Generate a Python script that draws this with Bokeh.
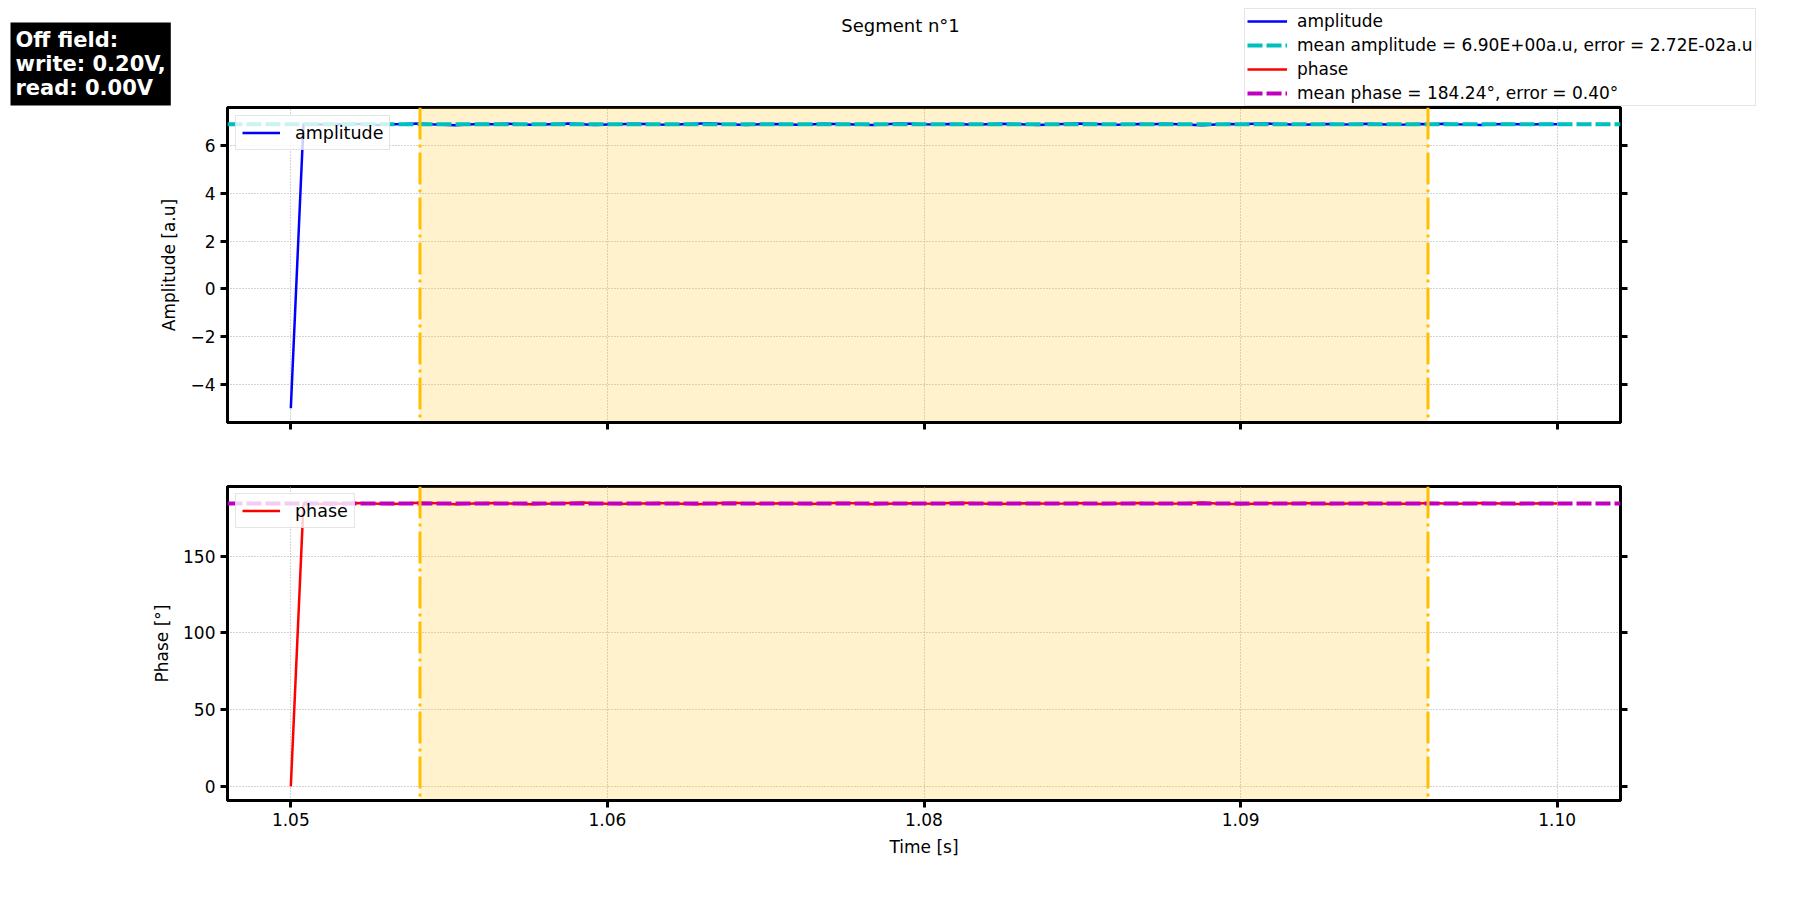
import numpy as np
from bokeh.plotting import figure
from bokeh.models import (Range1d, FixedTicker, LinearAxis, Span, BoxAnnotation,
                          Legend, LegendItem, Label)
from bokeh.layouts import column
from bokeh.embed import file_html
from bokeh.resources import INLINE

# ---------------- data ----------------
time_s = np.linspace(1.05, 1.10, 101)

amplitude = [-5.0,
    6.91, 6.90, 6.88, 6.90, 6.92, 6.89, 6.87, 6.90, 6.91, 6.93,
    6.90, 6.88, 6.86, 6.89, 6.91, 6.90, 6.92, 6.90, 6.88, 6.89,
    6.91, 6.93, 6.90, 6.87, 6.89, 6.90, 6.92, 6.91, 6.89, 6.88,
    6.90, 6.92, 6.94, 6.91, 6.89, 6.87, 6.90, 6.91, 6.90, 6.88,
    6.89, 6.92, 6.91, 6.90, 6.88, 6.87, 6.90, 6.93, 6.92, 6.90,
    6.89, 6.91, 6.90, 6.88, 6.90, 6.92, 6.91, 6.89, 6.87, 6.89,
    6.91, 6.93, 6.92, 6.90, 6.88, 6.89, 6.91, 6.90, 6.92, 6.90,
    6.88, 6.86, 6.89, 6.91, 6.90, 6.92, 6.93, 6.91, 6.89, 6.88,
    6.90, 6.91, 6.89, 6.90, 6.92, 6.90, 6.88, 6.89, 6.91, 6.90,
    6.92, 6.90, 6.89, 6.87, 6.90, 6.91, 6.90, 6.89, 6.91, 6.90]

phase = [0.0,
    184.3, 184.1, 183.8, 184.2, 184.6, 184.4, 184.0, 183.9, 184.3, 184.7,
    184.5, 184.2, 183.8, 184.0, 184.4, 184.6, 184.3, 184.1, 183.7, 184.0,
    184.2, 184.5, 184.8, 184.4, 184.1, 183.9, 184.2, 184.3, 184.6, 184.2,
    184.0, 183.8, 184.1, 184.5, 184.7, 184.3, 184.0, 184.2, 184.4, 184.1,
    183.9, 184.2, 184.6, 184.5, 184.2, 183.8, 184.0, 184.3, 184.4, 184.2,
    184.1, 184.5, 184.7, 184.4, 184.0, 183.9, 184.2, 184.4, 184.3, 184.1,
    184.3, 184.6, 184.2, 183.9, 184.1, 184.4, 184.5, 184.3, 184.0, 184.2,
    184.5, 184.8, 184.3, 184.0, 183.8, 184.1, 184.4, 184.3, 184.2, 184.5,
    184.2, 183.9, 184.1, 184.4, 184.6, 184.3, 184.1, 184.0, 184.3, 184.5,
    184.2, 184.0, 184.3, 184.6, 184.4, 184.1, 183.9, 184.2, 184.4, 184.3]

mean_amplitude = 6.90
mean_phase = 184.24
window_start = 1.0551
window_end = 1.0949

x_ticks = [1.05, 1.0625, 1.075, 1.0875, 1.10]
x_tick_labels = ["1.05", "1.06", "1.08", "1.09", "1.10"]
amp_ticks = [-4, -2, 0, 2, 4, 6]
amp_tick_labels = ["\u22124", "\u22122", "0", "2", "4", "6"]
phase_ticks = [0, 50, 100, 150]
phase_tick_labels = ["0", "50", "100", "150"]

title_text = "Segment n\u00b01"
info_text = "Off field:\nwrite: 0.20V,\nread: 0.00V"
legend_labels = ["amplitude",
                 "mean amplitude = 6.90E+00a.u, error = 2.72E-02a.u",
                 "phase",
                 "mean phase = 184.24\u00b0, error = 0.40\u00b0"]

# ---------------- styles ----------------
FONT = "DejaVu Sans"
BLUE, CYAN, RED, MAGENTA = "#0000ff", "#00bfbf", "#ff0000", "#bf00bf"
ORANGE = "#ffbf00"
MEAN_DASH = "15 4"
WIN_DASH = "32 5 3 5"
TOTAL_W = 1795
LEFT_B, FRAME_W = 227, 1393
HEADER_H = 106
DATA_LW = 2.5

x_range = Range1d(1.0475, 1.1025)


def style_axis(ax):
    ax.axis_line_width = 3
    ax.axis_line_color = "black"
    ax.major_tick_line_width = 3
    ax.major_tick_line_color = "black"
    ax.major_tick_out = 7
    ax.major_tick_in = 0
    ax.minor_tick_line_color = None
    ax.major_label_text_font = FONT
    ax.major_label_text_font_size = "17px"
    ax.major_label_text_color = "black"
    ax.major_label_standoff = 5
    ax.axis_label_text_font = FONT
    ax.axis_label_text_font_size = "17px"
    ax.axis_label_text_font_style = "normal"
    ax.axis_label_text_color = "black"
    ax.axis_label_standoff = 8


def make_fig(y_range, frame_h, top, bottom, yticks, ylabels, ylabel, xlabels_visible, xlabel):
    p = figure(x_range=x_range, y_range=y_range, frame_width=FRAME_W, frame_height=frame_h,
               min_border_left=LEFT_B, min_border_right=TOTAL_W - LEFT_B - FRAME_W,
               min_border_top=top, min_border_bottom=bottom,
               output_backend="svg", toolbar_location=None)
    p.outline_line_color = "black"
    p.outline_line_width = 3
    p.outline_line_alpha = 1.0
    p.background_fill_color = "white"
    p.border_fill_color = "white"

    xt = FixedTicker(ticks=x_ticks)
    p.xaxis.ticker = xt
    if xlabels_visible:
        p.xaxis.major_label_overrides = dict(zip(x_ticks, x_tick_labels))
    else:
        p.xaxis.major_label_overrides = {t: "" for t in x_ticks}
    if xlabel:
        p.xaxis.axis_label = xlabel
    yt = FixedTicker(ticks=yticks)
    p.yaxis.ticker = yt
    p.yaxis.major_label_overrides = dict(zip(yticks, ylabels))
    p.yaxis.axis_label = ylabel

    right = LinearAxis(ticker=FixedTicker(ticks=yticks),
                       major_label_overrides={t: "" for t in yticks})
    p.add_layout(right, "right")
    for ax in list(p.xaxis) + list(p.yaxis) + [right]:
        style_axis(ax)

    p.xgrid.ticker = xt
    p.ygrid.ticker = yt
    for g in (p.xgrid, p.ygrid):
        g.grid_line_color = "#a8a8a8"
        g.grid_line_width = 1
        g.grid_line_dash = "1 2"
    return p


p1 = make_fig(Range1d(-5.6, 7.6), 315, 1, 30, amp_ticks, amp_tick_labels,
              "Amplitude [a.u]", False, None)
p2 = make_fig(Range1d(-9.2, 195.3), 314, 34, 70, phase_ticks, phase_tick_labels,
              "Phase [\u00b0]", True, "Time [s]")


def add_content(p, values, color, mean_value, mean_color):
    p.add_layout(BoxAnnotation(left=window_start, right=window_end, fill_color=ORANGE,
                               fill_alpha=0.2, line_color=None, level="underlay"))
    r = p.line(time_s, values, line_color=color, line_width=DATA_LW)
    p.add_layout(Span(location=mean_value, dimension="width", line_color=mean_color,
                      line_width=4, line_dash=MEAN_DASH))
    for loc in (window_start, window_end):
        p.add_layout(Span(location=loc, dimension="height", line_color=ORANGE,
                          line_width=3, line_dash=WIN_DASH))
    return r


amp_r = add_content(p1, amplitude, BLUE, mean_amplitude, CYAN)
ph_r = add_content(p2, phase, RED, mean_phase, MAGENTA)


def style_legend(leg, font_size, glyph_w, glyph_h, standoff, pad):
    leg.label_text_font = FONT
    leg.label_text_font_size = font_size
    leg.label_text_color = "black"
    leg.glyph_width = glyph_w
    leg.glyph_height = glyph_h
    leg.label_height = glyph_h
    leg.label_standoff = standoff
    leg.padding = pad
    leg.margin = 0
    leg.border_line_color = "#cccccc"
    leg.border_line_width = 1
    leg.background_fill_color = "white"
    leg.background_fill_alpha = 0.8


leg1 = Legend(items=[LegendItem(label="amplitude", renderers=[amp_r])], location=(8, 272))
style_legend(leg1, "17.5px", 38, 21, 15, 6)
p1.add_layout(leg1, "center")

leg2 = Legend(items=[LegendItem(label="phase", renderers=[ph_r])], location=(8, 272))
style_legend(leg2, "17.5px", 38, 21, 15, 6)
p2.add_layout(leg2, "center")

# ---------------- header (separate root: its frame spans the full width) ----------------
header = figure(width=TOTAL_W, height=HEADER_H, x_range=Range1d(0, 1),
                y_range=Range1d(1000, 1001), min_border=0, x_axis_location=None,
                y_axis_location=None, output_backend="svg", toolbar_location=None)
header.outline_line_color = None
header.grid.visible = False
header.background_fill_color = "white"
header.border_fill_color = "white"

# legend carriers: real series, outside the header's (empty) view
mean_amp_series = [mean_amplitude] * len(time_s)
mean_ph_series = [mean_phase] * len(time_s)
h_amp = header.line(time_s, amplitude, line_color=BLUE, line_width=DATA_LW)
h_cyan = header.line(time_s, mean_amp_series, line_color=CYAN, line_width=4,
                     line_dash=MEAN_DASH)
h_red = header.line(time_s, phase, line_color=RED, line_width=DATA_LW)
h_mag = header.line(time_s, mean_ph_series, line_color=MAGENTA, line_width=4,
                    line_dash=MEAN_DASH)
fig_leg = Legend(items=[LegendItem(label=legend_labels[0], renderers=[h_amp]),
                        LegendItem(label=legend_labels[1], renderers=[h_cyan]),
                        LegendItem(label=legend_labels[2], renderers=[h_red]),
                        LegendItem(label=legend_labels[3], renderers=[h_mag])],
                 location=(1244, 0))
style_legend(fig_leg, "17px", 40, 20, 10, 2)
fig_leg.spacing = 4
header.add_layout(fig_leg, "center")

header.add_layout(Label(x=900, y=HEADER_H - 25, x_units="screen", y_units="screen",
                        text=title_text, text_align="center", text_baseline="middle",
                        text_font=FONT, text_font_size="18px", text_color="black"))
header.add_layout(Label(x=10, y=HEADER_H - 22, x_units="screen", y_units="screen",
                        text=info_text, text_align="left", text_baseline="top",
                        text_font=FONT, text_font_size="21px", text_font_style="bold",
                        text_color="white", text_line_height=1.02,
                        background_fill_color="black", padding=5))

body = column(p1, p2)
open("out.html", "w").write(file_html([header, body], INLINE))
